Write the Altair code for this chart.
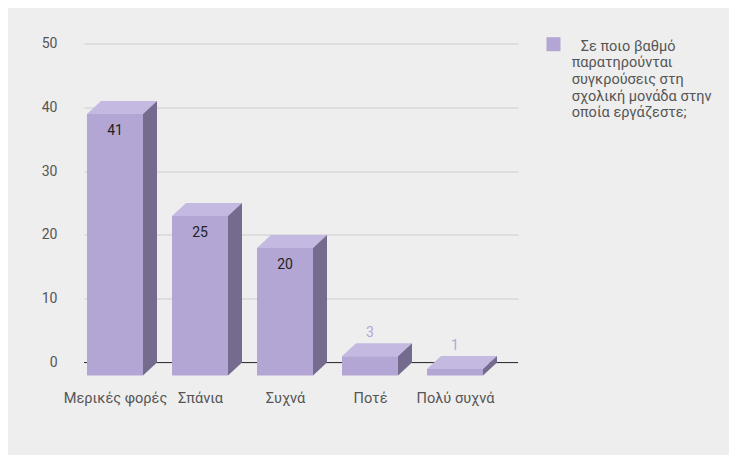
import json
import altair as alt
import pandas as pd

# ---- data ----
categories = ["Μερικές φορές", "Σπάνια", "Συχνά", "Ποτέ", "Πολύ συχνά"]
values = [41, 25, 20, 3, 1]
y_ticks = [0, 10, 20, 30, 40, 50]
legend_first = "Σε ποιο βαθμό"
legend_rest = [
    "παρατηρούνται",
    "συγκρούσεις στη",
    "σχολική μονάδα στην",
    "οποία εργάζεστε;",
]

# ---- layout / style ----
PLOT_W, PLOT_H = 434, 319
Y_MAX = 50
STEP = 85          # px between category centres
FIRST = 45         # px from plot left to centre of first back face
BAR_W = 56
DX, DY = 14, 13    # 3D depth in px

ux = 1.0 / STEP
uy = Y_MAX / PLOT_H

FRONT = "#b3a6d5"
TOP = "#c4b9e1"
SIDE = "#756b8f"
BG = "#eeeeee"
FONT = "Roboto"
TXT = "#555555"

idx = list(range(len(categories)))
bars = pd.DataFrame({"cat": categories, "idx": idx, "value": values})
bars["fx1"] = bars["idx"] - (BAR_W / 2 + DX) * ux
bars["fx2"] = bars["idx"] + (BAR_W / 2 - DX) * ux
bars["fy1"] = bars["value"] - DY * uy
bars["fy2"] = -DY * uy

side_rows, top_rows = [], []
for c, i, v in zip(categories, idx, values):
    side_rows.append({"cat": c, "x": i + (BAR_W / 2 - DX) * ux, "y": v - DY * uy, "y2": -DY * uy})
    side_rows.append({"cat": c, "x": i + (BAR_W / 2) * ux, "y": v, "y2": 0})
    top_rows.append({"cat": c, "y": v - DY * uy, "x": i - (BAR_W / 2 + DX) * ux, "x2": i + (BAR_W / 2 - DX) * ux})
    top_rows.append({"cat": c, "y": v, "x": i - (BAR_W / 2) * ux, "x2": i + (BAR_W / 2) * ux})

xs = alt.Scale(domain=[-FIRST * ux, (PLOT_W - FIRST) * ux], nice=False, zero=False)
ys = alt.Scale(domain=[0, Y_MAX], nice=False, zero=False)

label_expr = json.dumps(categories, ensure_ascii=False) + "[datum.value]"

xa = alt.Axis(
    values=idx, labelExpr=label_expr, title=None, grid=False, domain=False,
    ticks=False, tickSize=0, labelPadding=28, labelOffset=-DX,
    labelFlush=False, labelOverlap=False, labelFont=FONT,
    labelFontSize=14.6, labelColor=TXT,
)
ya = alt.Axis(
    values=y_ticks, title=None, grid=True, gridColor="#cccccc", domain=False,
    ticks=False, tickSize=0, labelPadding=27, labelFont=FONT,
    labelFontSize=14, labelColor=TXT,
)

zero = alt.Chart(pd.DataFrame({"z": [0]})).mark_rule(color="#333333", strokeWidth=1).encode(
    y=alt.Y("z:Q", scale=ys, axis=ya)
)

top = alt.Chart(pd.DataFrame(top_rows)).mark_area(color=TOP, orient="horizontal").encode(
    y=alt.Y("y:Q", scale=ys, axis=ya),
    x=alt.X("x:Q", scale=xs, axis=xa, stack=None),
    x2="x2:Q",
    detail="cat:N",
)

side = alt.Chart(pd.DataFrame(side_rows)).mark_area(color=SIDE, orient="vertical").encode(
    x=alt.X("x:Q", scale=xs, axis=xa),
    y=alt.Y("y:Q", scale=ys, axis=ya, stack=None),
    y2="y2:Q",
    detail="cat:N",
)

front = alt.Chart(bars).mark_bar(color=FRONT).encode(
    x=alt.X("fx1:Q", scale=xs, axis=xa),
    x2="fx2:Q",
    y=alt.Y("fy1:Q", scale=ys, axis=ya),
    y2="fy2:Q",
)

lab_in = alt.Chart(bars).transform_filter("datum.value >= 10").mark_text(
    font=FONT, fontSize=14, color="#222222", baseline="middle", dx=-DX, dy=DY + 17
).encode(
    x=alt.X("idx:Q", scale=xs, axis=xa),
    y=alt.Y("value:Q", scale=ys, axis=ya),
    text="value:Q",
)

lab_out = alt.Chart(bars).transform_filter("datum.value < 10").mark_text(
    font=FONT, fontSize=14, color=FRONT, baseline="middle", dx=-DX, dy=-10
).encode(
    x=alt.X("idx:Q", scale=xs, axis=xa),
    y=alt.Y("value:Q", scale=ys, axis=ya),
    text="value:Q",
)

leg_sq = alt.Chart(pd.DataFrame({"k": [0]})).mark_square(size=196, color=FRONT, opacity=1).encode(
    x=alt.value(469.5), y=alt.value(0.7)
)

leg_first = alt.Chart(pd.DataFrame({"t": [legend_first]})).mark_text(
    font=FONT, fontSize=14.5, color=TXT, align="left", baseline="alphabetic",
).encode(x=alt.value(496.7), y=alt.value(7), text="t:N")

leg_rest = alt.Chart(pd.DataFrame({"t": ["\n".join(legend_rest)]})).mark_text(
    font=FONT, fontSize=14.5, color=TXT, align="left", baseline="alphabetic",
    lineBreak="\n", lineHeight=16.7,
).encode(x=alt.value(487.7), y=alt.value(7 + 16.7), text="t:N")

chart = alt.layer(zero, top, side, front, lab_in, lab_out, leg_sq, leg_first, leg_rest).properties(
    width=PLOT_W,
    height=PLOT_H,
    autosize=alt.AutoSizeParams(type="none"),
    padding={"left": 76, "top": 35.5, "right": 211, "bottom": 92.5},
    background=BG,
).configure_view(stroke=None)

chart.save("out.html", embed_options={"renderer": "svg", "actions": False})
